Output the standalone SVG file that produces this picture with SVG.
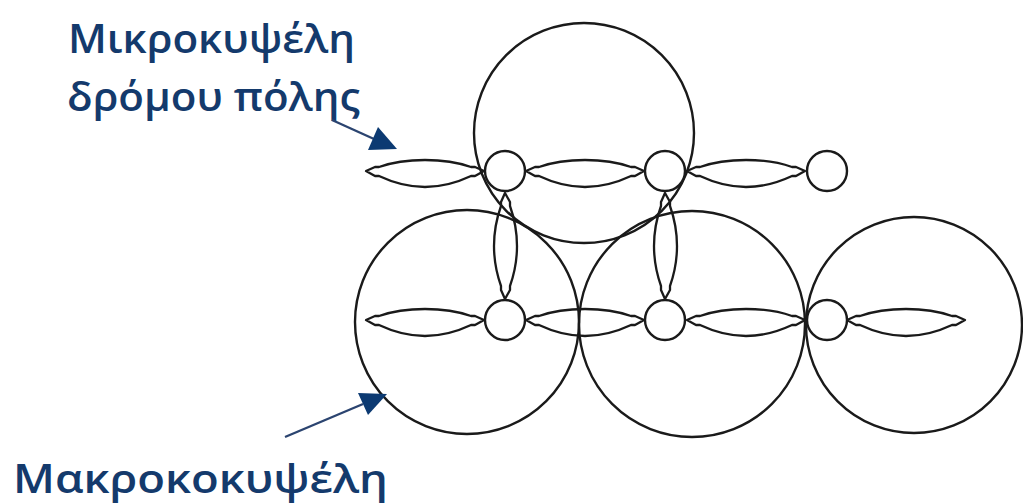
<svg xmlns="http://www.w3.org/2000/svg" xmlns:xlink="http://www.w3.org/1999/xlink" width="1023" height="504" viewBox="0 0 1023 504">
<style>
.big{fill:none;stroke:#1a1a1a;stroke-width:2.4}
.small{fill:#fff;stroke:#1a1a1a;stroke-width:2.4}
.lens{fill:none;stroke:#1a1a1a;stroke-width:2.3;stroke-linejoin:round}
.lbl{font-family:"Open Sans","Noto Sans","DejaVu Sans",sans-serif;font-size:40px;font-weight:600;fill:#143a6c}
.aline{stroke:#2b4470;stroke-width:2.4}
.ahead{fill:#0c3a72}
</style>
<defs>
<path id="lensH" d="M0,0 L9,-4 L13,-4 C30,-10 45,-11 59,-11 C73,-11 88,-10 105,-4 L109,-4 L118,0 L109,5 L105,5 C88,13 73,16 59,16 C45,16 30,13 13,5 L9,5 Z"/>
<path id="lensV" d="M0,0 L-4,9 L-4,13 C-10,30 -11,42 -11,53 C-11,64 -10,76 -4,93 L-4,97 L0,106 L5,97 L5,93 C11,76 12,64 12,53 C12,42 11,30 5,13 L5,9 Z"/>
</defs>
<g id="macrocells">
<circle id="macro-top" class="big" cx="584" cy="133" r="110"/>
<circle id="macro-bl" class="big" cx="467" cy="322" r="112"/>
<circle id="macro-bm" class="big" cx="692" cy="324" r="113"/>
<circle id="macro-br" class="big" cx="914" cy="325" r="108"/>
</g>
<g id="connectors">
<use xlink:href="#lensH" class="lens" x="366" y="171"/>
<use xlink:href="#lensH" class="lens" x="526" y="171"/>
<use xlink:href="#lensH" class="lens" x="687" y="171"/>
<use xlink:href="#lensH" class="lens" x="366" y="320"/>
<use xlink:href="#lensH" class="lens" x="526" y="320"/>
<use xlink:href="#lensH" class="lens" x="687" y="320"/>
<use xlink:href="#lensH" class="lens" x="847" y="320"/>
<use xlink:href="#lensV" class="lens" x="505" y="193"/>
<use xlink:href="#lensV" class="lens" x="665" y="193"/>
</g>
<g id="microcells">
<circle id="micro-1" class="small" cx="505" cy="171" r="20"/>
<circle id="micro-2" class="small" cx="665" cy="171" r="20"/>
<circle id="micro-3" class="small" cx="827" cy="171" r="20"/>
<circle id="micro-4" class="small" cx="505" cy="320" r="20"/>
<circle id="micro-5" class="small" cx="665" cy="320" r="20"/>
<circle id="micro-6" class="small" cx="827" cy="320" r="20"/>
</g>
<g id="label-micro">
<text class="lbl" x="68" y="53" textLength="287" lengthAdjust="spacingAndGlyphs">Μικροκυψέλη</text>
<text class="lbl" x="67" y="111" textLength="293" lengthAdjust="spacingAndGlyphs">δρόμου πόλης</text>
<line class="aline" x1="332" y1="120" x2="374" y2="139"/>
<polygon class="ahead" points="397,149 378,127 368,150"/>
</g>
<g id="label-macro">
<text class="lbl" x="13" y="493" font-size="42" textLength="375" lengthAdjust="spacingAndGlyphs">Μακροκοκυψέλη</text>
<line class="aline" x1="285" y1="437" x2="363" y2="404"/>
<polygon class="ahead" points="387,394 358,393 368,415"/>
</g>
</svg>
